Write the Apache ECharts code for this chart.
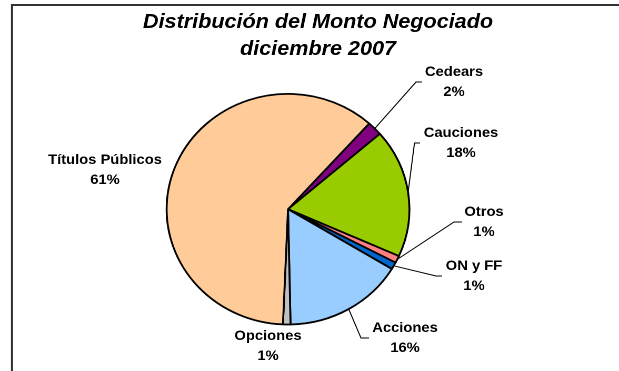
<!DOCTYPE html>
<html>
<head>
<meta charset="utf-8">
<script src="https://cdn.jsdelivr.net/npm/echarts@6/dist/echarts.min.js"></script>
<style>
  html, body { margin: 0; padding: 0; background: #fff; overflow: hidden; }
  /* the chart is drawn slightly narrower and widened horizontally as a whole */
  #chart { width: 588px; height: 371px; transform: scaleX(1.0527); transform-origin: 0 0; }
</style>
</head>
<body>
<div id="chart"></div>
<script>
// Share of traded amount, December 2007 (percent), listed clockwise from the Cedears slice
const categories = ['Cedears', 'Cauciones', 'Otros', 'ON y FF', 'Acciones', 'Opciones', 'Títulos Públicos'];
const shares = [2, 18, 1, 1, 16, 1, 61];

const sliceColors = ['#800080', '#99CC00', '#FF8080', '#0066CC', '#99CCFF', '#C0C0C0', '#FFCC99'];

const SX = 1.0527;           // horizontal widening applied to the whole canvas
const FONT = '"Liberation Sans", Arial, sans-serif';

// Where each label sits (screen px) and, for the ones with a leader, its elbow and tail end
const LABEL_ANCHORS = {
  'Cedears':          { x: 454, y: 82,  bend: [416, 82],  tail: 422 },
  'Cauciones':        { x: 461, y: 143, bend: [414.5, 143], tail: 420 },
  'Otros':            { x: 484, y: 222, bend: [454, 222], tail: 462 },
  'ON y FF':          { x: 474, y: 276, bend: [436, 276], tail: 442 },
  'Acciones':         { x: 405, y: 338, bend: [361, 338], tail: 369 },
  'Opciones':         { x: 268, y: 346 },
  'Títulos Públicos': { x: 105, y: 170 }
};

const chart = echarts.init(document.getElementById('chart'), null, { renderer: 'canvas', devicePixelRatio: 2 });

const pieData = categories.map((name, i) => ({
  name: name,
  value: shares[i],
  itemStyle: { color: sliceColors[i] },
  labelLine: { show: !!LABEL_ANCHORS[name].bend }
}));

chart.setOption({
  animation: false,
  backgroundColor: '#ffffff',
  title: {
    text: 'Distribución del Monto Negociado\ndiciembre 2007',
    left: 318 / SX,
    top: 9,
    padding: 0,
    textAlign: 'center',
    textStyle: {
      fontFamily: FONT,
      fontSize: 20.5,
      fontStyle: 'italic',
      fontWeight: 'bold',
      color: '#000',
      lineHeight: 27
    }
  },
  graphic: [{
    type: 'rect',
    silent: true,
    shape: { x: 12 / SX, y: 5, width: 800, height: 600 },
    style: { fill: 'none', stroke: '#333333', lineWidth: 2 }
  }],
  series: [{
    type: 'pie',
    silent: true,
    center: [288 / SX, 209.2],
    radius: 115.3,
    startAngle: 48,
    clockwise: true,
    avoidLabelOverlap: false,
    emphasis: { disabled: true },
    itemStyle: { borderColor: '#000', borderWidth: 1.8 },
    label: {
      show: true,
      position: 'outside',
      formatter: p => p.name + '\n' + p.value + '%',
      fontFamily: FONT,
      fontSize: 14,
      fontWeight: 'bold',
      color: '#000',
      lineHeight: 20,
      align: 'center'
    },
    labelLine: {
      show: true,
      length: 10,
      length2: 10,
      smooth: false,
      lineStyle: { color: '#000', width: 1 }
    },
    labelLayout: function (p) {
      const a = LABEL_ANCHORS[categories[p.dataIndex]];
      const out = { x: a.x / SX, y: a.y, align: 'center', verticalAlign: 'middle' };
      if (a.bend && p.labelLinePoints && p.labelLinePoints.length) {
        out.labelLinePoints = [
          p.labelLinePoints[0],
          [a.bend[0] / SX, a.bend[1]],
          [a.tail / SX, a.bend[1]]
        ];
      }
      return out;
    },
    data: pieData
  }]
});
</script>
</body>
</html>
